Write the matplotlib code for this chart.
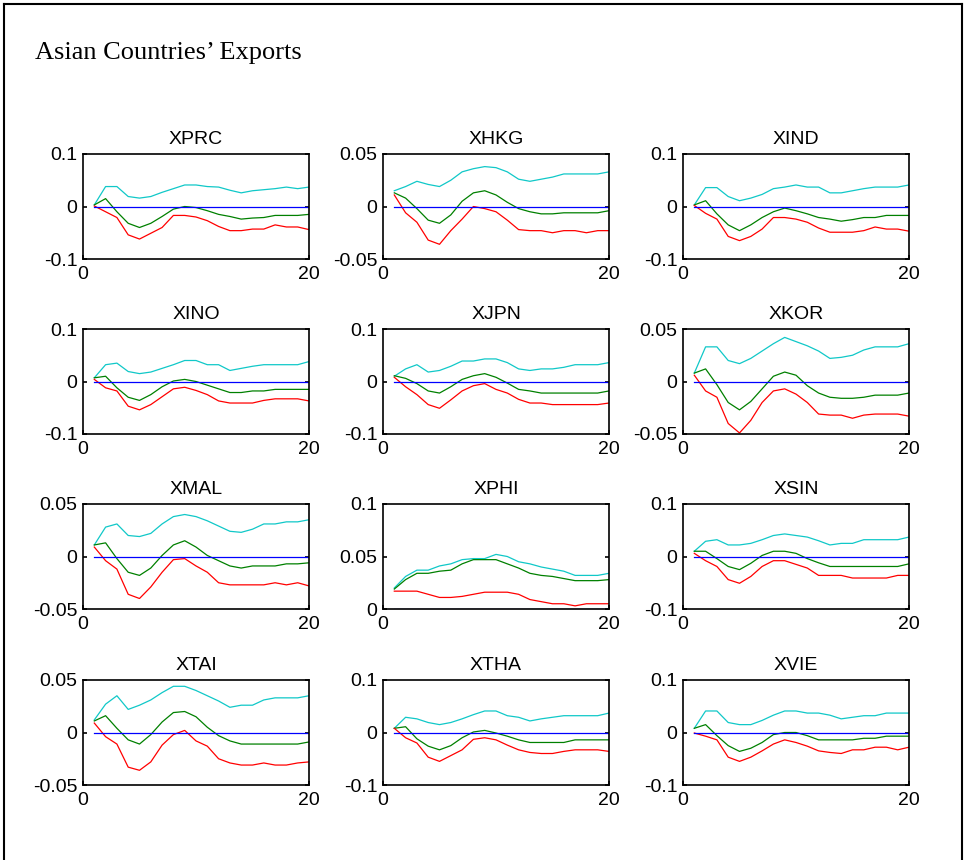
import matplotlib
matplotlib.use('Agg')
import matplotlib.pyplot as plt
from matplotlib.lines import Line2D
import numpy as np

# impulse responses, steps 1..20 (upper band, estimate, lower band)
steps = np.arange(1, 21)
names = ['XPRC', 'XHKG', 'XIND', 'XINO', 'XJPN', 'XKOR',
         'XMAL', 'XPHI', 'XSIN', 'XTAI', 'XTHA', 'XVIE']
ylims = [(-0.1, 0.1), (-0.05, 0.05), (-0.1, 0.1), (-0.1, 0.1), (-0.1, 0.1), (-0.05, 0.05),
         (-0.05, 0.05), (0, 0.1), (-0.1, 0.1), (-0.05, 0.05), (-0.1, 0.1), (-0.1, 0.1)]
yticks = [[-0.1, 0, 0.1], [-0.05, 0, 0.05], [-0.1, 0, 0.1], [-0.1, 0, 0.1], [-0.1, 0, 0.1], [-0.05, 0, 0.05],
          [-0.05, 0, 0.05], [0, 0.05, 0.1], [-0.1, 0, 0.1], [-0.05, 0, 0.05], [-0.1, 0, 0.1], [-0.1, 0, 0.1]]

upper = {
    'XPRC': [0.003, 0.038, 0.038, 0.019, 0.016, 0.019, 0.027, 0.034, 0.041, 0.041, 0.038, 0.037, 0.031, 0.026, 0.030, 0.032, 0.034, 0.037, 0.034, 0.037],
    'XHKG': [0.015, 0.019, 0.024, 0.021, 0.019, 0.025, 0.033, 0.036, 0.038, 0.037, 0.033, 0.026, 0.024, 0.026, 0.028, 0.031, 0.031, 0.031, 0.031, 0.033],
    'XIND': [0.003, 0.036, 0.036, 0.019, 0.011, 0.016, 0.023, 0.034, 0.037, 0.041, 0.037, 0.037, 0.026, 0.026, 0.030, 0.034, 0.037, 0.037, 0.037, 0.041],
    'XINO': [0.007, 0.032, 0.035, 0.019, 0.015, 0.018, 0.025, 0.032, 0.040, 0.040, 0.032, 0.032, 0.021, 0.025, 0.029, 0.032, 0.032, 0.032, 0.032, 0.038],
    'XJPN': [0.010, 0.024, 0.032, 0.018, 0.021, 0.029, 0.039, 0.039, 0.043, 0.043, 0.036, 0.024, 0.021, 0.024, 0.024, 0.027, 0.032, 0.032, 0.032, 0.036],
    'XKOR': [0.008, 0.033, 0.033, 0.020, 0.017, 0.022, 0.029, 0.036, 0.042, 0.038, 0.034, 0.029, 0.022, 0.023, 0.025, 0.030, 0.033, 0.033, 0.033, 0.036],
    'XMAL': [0.011, 0.028, 0.031, 0.020, 0.019, 0.022, 0.031, 0.038, 0.040, 0.038, 0.034, 0.029, 0.024, 0.023, 0.026, 0.031, 0.031, 0.033, 0.033, 0.035],
    'XPHI': [0.020, 0.031, 0.037, 0.037, 0.041, 0.043, 0.047, 0.048, 0.048, 0.052, 0.050, 0.045, 0.043, 0.040, 0.038, 0.036, 0.032, 0.032, 0.032, 0.034],
    'XSIN': [0.010, 0.029, 0.032, 0.022, 0.022, 0.025, 0.032, 0.040, 0.043, 0.040, 0.037, 0.030, 0.022, 0.025, 0.025, 0.032, 0.032, 0.032, 0.032, 0.037],
    'XTAI': [0.012, 0.027, 0.035, 0.022, 0.026, 0.031, 0.038, 0.044, 0.044, 0.040, 0.035, 0.030, 0.024, 0.026, 0.026, 0.031, 0.033, 0.033, 0.033, 0.035],
    'XTHA': [0.008, 0.029, 0.026, 0.019, 0.015, 0.019, 0.026, 0.034, 0.041, 0.041, 0.032, 0.029, 0.022, 0.026, 0.029, 0.032, 0.032, 0.032, 0.032, 0.037],
    'XVIE': [0.008, 0.041, 0.041, 0.019, 0.015, 0.015, 0.023, 0.033, 0.041, 0.041, 0.037, 0.037, 0.033, 0.026, 0.029, 0.032, 0.032, 0.037, 0.037, 0.037],
}
mid = {
    'XPRC': [0.003, 0.015, -0.010, -0.032, -0.040, -0.032, -0.019, -0.005, 0.000, -0.002, -0.008, -0.015, -0.019, -0.024, -0.022, -0.021, -0.017, -0.017, -0.017, -0.015],
    'XHKG': [0.013, 0.008, -0.002, -0.013, -0.016, -0.008, 0.005, 0.013, 0.015, 0.011, 0.004, -0.002, -0.005, -0.007, -0.007, -0.006, -0.006, -0.006, -0.006, -0.004],
    'XIND': [0.003, 0.011, -0.014, -0.035, -0.046, -0.035, -0.021, -0.010, -0.003, -0.008, -0.014, -0.021, -0.024, -0.028, -0.025, -0.021, -0.021, -0.017, -0.017, -0.017],
    'XINO': [0.007, 0.010, -0.012, -0.030, -0.036, -0.025, -0.010, 0.001, 0.004, 0.000, -0.007, -0.014, -0.021, -0.021, -0.018, -0.018, -0.015, -0.015, -0.015, -0.015],
    'XJPN': [0.011, 0.006, -0.004, -0.018, -0.022, -0.010, 0.004, 0.011, 0.015, 0.008, -0.003, -0.015, -0.018, -0.022, -0.022, -0.022, -0.022, -0.022, -0.022, -0.018],
    'XKOR': [0.008, 0.012, -0.003, -0.020, -0.027, -0.019, -0.007, 0.005, 0.009, 0.006, -0.004, -0.011, -0.015, -0.016, -0.016, -0.015, -0.013, -0.013, -0.013, -0.011],
    'XMAL': [0.011, 0.013, -0.002, -0.015, -0.018, -0.011, 0.001, 0.011, 0.015, 0.009, 0.001, -0.004, -0.009, -0.011, -0.009, -0.009, -0.009, -0.007, -0.007, -0.006],
    'XPHI': [0.019, 0.028, 0.034, 0.034, 0.036, 0.037, 0.043, 0.047, 0.047, 0.047, 0.043, 0.039, 0.034, 0.032, 0.031, 0.029, 0.027, 0.027, 0.027, 0.028],
    'XSIN': [0.010, 0.010, -0.004, -0.019, -0.025, -0.013, 0.002, 0.010, 0.010, 0.006, -0.004, -0.012, -0.019, -0.019, -0.019, -0.019, -0.019, -0.019, -0.019, -0.014],
    'XTAI': [0.011, 0.016, 0.004, -0.007, -0.011, -0.002, 0.010, 0.019, 0.020, 0.015, 0.005, -0.003, -0.008, -0.011, -0.011, -0.011, -0.011, -0.011, -0.011, -0.009],
    'XTHA': [0.008, 0.011, -0.012, -0.026, -0.033, -0.025, -0.010, 0.001, 0.004, -0.001, -0.007, -0.014, -0.019, -0.019, -0.019, -0.019, -0.014, -0.014, -0.014, -0.014],
    'XVIE': [0.008, 0.015, -0.006, -0.025, -0.036, -0.030, -0.019, -0.004, 0.000, 0.000, -0.006, -0.014, -0.014, -0.014, -0.014, -0.011, -0.011, -0.007, -0.007, -0.007],
}
lower = {
    'XPRC': [0.001, -0.010, -0.021, -0.054, -0.062, -0.051, -0.040, -0.017, -0.017, -0.020, -0.027, -0.038, -0.046, -0.046, -0.043, -0.043, -0.035, -0.039, -0.039, -0.044],
    'XHKG': [0.011, -0.006, -0.015, -0.032, -0.036, -0.023, -0.012, 0.000, -0.002, -0.005, -0.013, -0.022, -0.023, -0.023, -0.025, -0.023, -0.023, -0.025, -0.023, -0.023],
    'XIND': [0.002, -0.013, -0.024, -0.057, -0.065, -0.057, -0.043, -0.021, -0.021, -0.024, -0.030, -0.041, -0.049, -0.049, -0.049, -0.046, -0.039, -0.043, -0.043, -0.047],
    'XINO': [0.004, -0.012, -0.018, -0.047, -0.054, -0.044, -0.029, -0.014, -0.011, -0.017, -0.025, -0.037, -0.041, -0.041, -0.041, -0.036, -0.033, -0.033, -0.033, -0.037],
    'XJPN': [0.008, -0.010, -0.025, -0.044, -0.051, -0.035, -0.018, -0.008, -0.004, -0.015, -0.022, -0.034, -0.041, -0.041, -0.044, -0.044, -0.044, -0.044, -0.044, -0.041],
    'XKOR': [0.006, -0.009, -0.015, -0.040, -0.049, -0.037, -0.020, -0.009, -0.007, -0.012, -0.020, -0.031, -0.032, -0.032, -0.035, -0.032, -0.031, -0.031, -0.031, -0.033],
    'XMAL': [0.009, -0.004, -0.012, -0.036, -0.040, -0.029, -0.015, -0.003, -0.002, -0.009, -0.015, -0.025, -0.027, -0.027, -0.027, -0.027, -0.025, -0.027, -0.025, -0.028],
    'XPHI': [0.017, 0.017, 0.017, 0.014, 0.011, 0.011, 0.012, 0.014, 0.016, 0.016, 0.016, 0.014, 0.009, 0.007, 0.005, 0.005, 0.003, 0.005, 0.005, 0.005],
    'XSIN': [0.006, -0.008, -0.019, -0.044, -0.051, -0.038, -0.019, -0.008, -0.008, -0.015, -0.022, -0.036, -0.036, -0.036, -0.041, -0.041, -0.041, -0.041, -0.036, -0.036],
    'XTAI': [0.009, -0.004, -0.011, -0.033, -0.036, -0.028, -0.012, -0.002, 0.002, -0.008, -0.013, -0.025, -0.029, -0.031, -0.031, -0.029, -0.031, -0.031, -0.029, -0.028],
    'XTHA': [0.008, -0.010, -0.020, -0.047, -0.055, -0.044, -0.033, -0.013, -0.010, -0.014, -0.024, -0.033, -0.038, -0.040, -0.040, -0.036, -0.033, -0.033, -0.033, -0.036],
    'XVIE': [-0.001, -0.007, -0.014, -0.047, -0.055, -0.047, -0.035, -0.022, -0.014, -0.019, -0.026, -0.035, -0.038, -0.040, -0.033, -0.033, -0.028, -0.028, -0.033, -0.028],
}

W, H = 965, 860
fig = plt.figure(figsize=(W / 100, H / 100), dpi=100)
fig.patch.set_facecolor('white')

# outer frame
for xs, ys in [([4, 4], [0, 856]), ([4, 962], [856, 856]), ([962, 962], [0, 856])]:
    fig.add_artist(Line2D(np.array(xs) / W, np.array(ys) / H, color='black', lw=1.5))

fig.text(35 / W, 1 - 53 / H, 'Asian Countries\u2019 Exports', family='Liberation Serif',
         fontsize=19, va='center', ha='left')

col_x = [83, 383, 683]
row_top = [154, 329, 504, 680]
aw, ah = 226, 105

for i, name in enumerate(names):
    r, c = divmod(i, 3)
    ax = fig.add_axes([col_x[c] / W, 1 - (row_top[r] + ah) / H, aw / W, ah / H])
    ax.plot(steps, upper[name], color='#10c8c8', lw=0.9)
    ax.plot(steps, mid[name], color='#008000', lw=0.9)
    ax.plot(steps, lower[name], color='#ff0000', lw=0.9)
    ax.plot(steps, np.zeros(len(steps)), color='#0000ff', lw=0.9)
    ax.set_xlim(0, 20)
    ax.set_ylim(*ylims[i])
    ax.set_xticks([0, 20])
    ax.set_yticks(yticks[i])
    ax.set_yticklabels(['%g' % v for v in yticks[i]])
    ax.set_title(name, fontsize=14, family='Liberation Sans', pad=7)
    ax.tick_params(direction='in', length=3, width=1.2, right=True, top=False,
                   labelsize=14, pad=4)
    ax.tick_params(axis='x', pad=5)
    for lab in ax.get_xticklabels() + ax.get_yticklabels():
        lab.set_family('Liberation Sans')
    for sp in ax.spines.values():
        sp.set_linewidth(1.2)

fig.savefig('out.png', dpi=100)
